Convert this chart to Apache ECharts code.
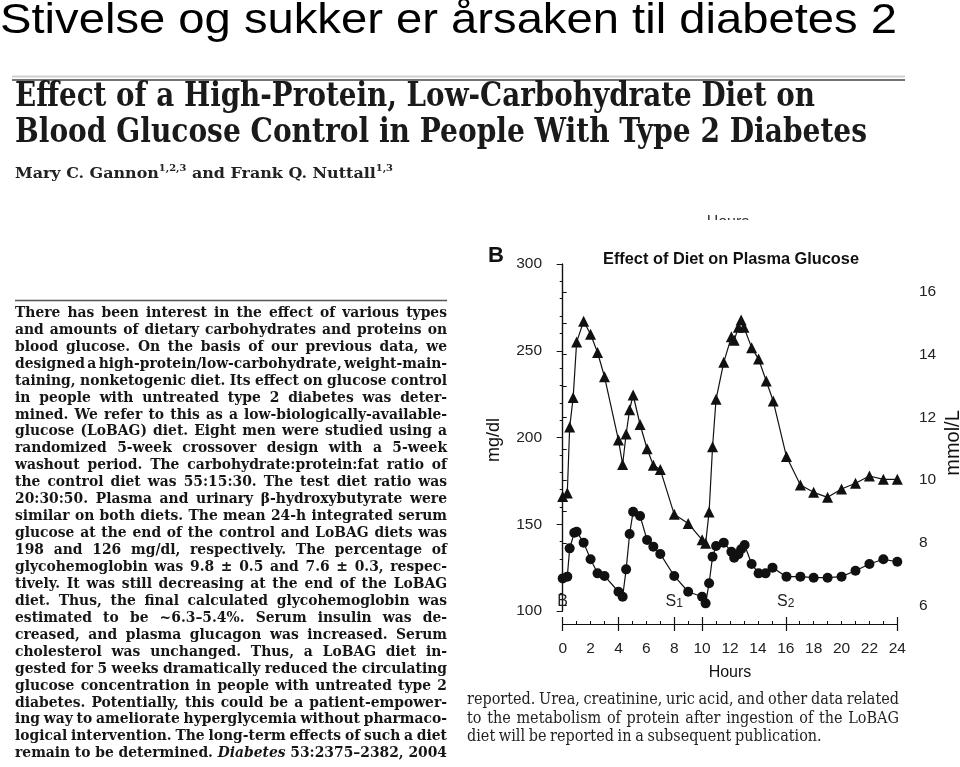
<!DOCTYPE html>
<html><head><meta charset="utf-8">
<script src="https://cdn.jsdelivr.net/npm/echarts@6/dist/echarts.min.js"></script>
<style>html,body{margin:0;padding:0;background:#fff}#c{width:960px;height:767px}</style>
</head><body><div id="c"></div>
<script>
// ---- data ----
const controlHours   = [0,0.33,0.5,0.75,1,1.5,2,2.5,3,4,4.3,4.55,4.8,5.05,5.55,6.05,6.5,7,8,9,10,10.25,10.5,10.75,11,11.55,12.1,12.3,12.6,12.8,13,13.55,14.05,14.6,15.1,16.05,17.05,18,19,20,21,22,23,24];
const controlGlucose = [166,168,206,223,255,267,259.5,249,235,198.5,184.5,202,216,224.5,207.5,193.5,184,181.5,155.7,150.5,141,139,157,194.7,222,243.3,258,256,263.5,267.7,263.5,251.8,245.2,232.6,221,189,172.6,168.4,165.5,170.3,173.6,177.8,175.9,175.9];
const lobagHours     = [0,0.33,0.5,0.83,1,1.5,2,2.5,3,4,4.3,4.55,4.8,5.05,5.55,6.05,6.5,7,8,9,10,10.25,10.5,10.75,11,11.55,12.1,12.3,12.6,12.8,13.05,13.55,14.05,14.55,15.05,16.05,17.05,18,19,20,21,22,23,24];
const lobagGlucose   = [118.8,119.8,136.1,145.1,145.7,139.4,129.8,121.7,120.2,111.1,108.2,124,144.4,157.2,154.8,140.9,137.1,132.9,120.2,111.1,108.2,104.4,116,131.3,137.5,139.4,134.2,130.7,132.7,135.6,138,127.1,121.7,121.7,125,119.8,119.8,119.2,119.2,119.8,123.2,127.1,129.8,128.4];
const hourTicks      = [0,1,2,3,4,5,6,7,8,9,10,11,12,13,14,15,16,17,18,19,20,21,22,23,24];
const hourMajorTicks = [0,4,8,10,16,24];
const mmolTicks      = [6,7,8,9,10,11,12,13,14,15,16];
const mmolLabels     = [6,8,10,12,14,16];
const eventHours     = [0,8,16];
const eventLabels    = ['B','S{s|1}','S{s|2}'];

const slideTitle = 'Stivelse og sukker er årsaken til diabetes 2';
const paperTitle = ['Effect of a High-Protein, Low-Carbohydrate Diet on','Blood Glucose Control in People With Type 2 Diabetes'];
const abstractLines = [
'There has been interest in the effect of various types',
'and amounts of dietary carbohydrates and proteins on',
'blood glucose. On the basis of our previous data, we',
'designed a high-protein/low-carbohydrate, weight-main-',
'taining, nonketogenic diet. Its effect on glucose control',
'in people with untreated type 2 diabetes was deter-',
'mined. We refer to this as a low-biologically-available-',
'glucose (LoBAG) diet. Eight men were studied using a',
'randomized 5-week crossover design with a 5-week',
'washout period. The carbohydrate:protein:fat ratio of',
'the control diet was 55:15:30. The test diet ratio was',
'20:30:50. Plasma and urinary β-hydroxybutyrate were',
'similar on both diets. The mean 24-h integrated serum',
'glucose at the end of the control and LoBAG diets was',
'198 and 126 mg/dl, respectively. The percentage of',
'glycohemoglobin was 9.8 ± 0.5 and 7.6 ± 0.3, respec-',
'tively. It was still decreasing at the end of the LoBAG',
'diet. Thus, the final calculated glycohemoglobin was',
'estimated to be ~6.3–5.4%. Serum insulin was de-',
'creased, and plasma glucagon was increased. Serum',
'cholesterol was unchanged. Thus, a LoBAG diet in-',
'gested for 5 weeks dramatically reduced the circulating',
'glucose concentration in people with untreated type 2',
'diabetes. Potentially, this could be a patient-empower-',
'ing way to ameliorate hyperglycemia without pharmaco-',
'logical intervention. The long-term effects of such a diet',
'remain to be determined. *Diabetes* 53:2375–2382, 2004'
];
const bodyLines = [
'reported. Urea, creatinine, uric acid, and other data related',
'to the metabolism of protein after ingestion of the LoBAG',
'diet will be reported in a subsequent publication.'
];

// ---- helpers ----
const ctx = document.createElement('canvas').getContext('2d');
function tw(t, style, weight, size, family){ ctx.font = `${style} ${weight} ${size}px ${family}`; return ctx.measureText(t).width; }
const SANS = '"Liberation Sans", Arial, sans-serif';
const SERIF = '"DejaVu Serif", serif';
const G = [];
function fitText(text, x, y, width, size, weight, family, fill, sy){
  const w = tw(text, 'normal', weight, size, family);
  G.push({type:'text', x:x, y:y, scaleX: width / w, scaleY: sy || 1, originX:0, originY:0, z:10,
    style:{text:text, x:0, y:0, fontSize:size, fontWeight:weight, fontFamily:family, fill:fill, textAlign:'left', textVerticalAlign:'middle'}});
}
function justifyBlock(lines, x0, width, y0, dy, size, weight, family, fill, justifyLast, minSp){
  const sp = tw(' ', 'normal', weight, size, family);
  const parsed = lines.map(l => l.split(' ').map(w => {
    const it = w.startsWith('*'); const t = w.replace(/\*/g,'');
    return {t:t, it:it, w: tw(t, it?'italic':'normal', weight, size, family)};
  }));
  let sx = 1;
  parsed.forEach(ws => { const sum = ws.reduce((a,b)=>a+b.w,0); const need = sum + sp*minSp*(ws.length-1); sx = Math.min(sx, width/need); });
  parsed.forEach((ws, li) => {
    const sum = ws.reduce((a,b)=>a+b.w,0)*sx;
    const last = li === parsed.length-1;
    const gap = (last && !justifyLast) ? sp*sx*minSp : (width - sum)/(ws.length-1);
    let x = x0; const y = y0 + li*dy;
    ws.forEach(w => {
      G.push({type:'text', x:x, y:y, scaleX:sx, originX:0, originY:0, z:10,
        style:{text:w.t, x:0, y:0, fontSize:size, fontWeight:weight, fontStyle:w.it?'italic':'normal', fontFamily:family, fill:fill, textAlign:'left', textVerticalAlign:'middle'}});
      x += w.w*sx + gap;
    });
  });
}

// slide title
fitText(slideTitle, 0, 21, 897, 42, 'normal', SANS, '#000');
// rules
G.push({type:'line', shape:{x1:12,y1:76.5,x2:905,y2:76.5}, style:{stroke:'#d0d0d0', lineWidth:2}});
G.push({type:'line', shape:{x1:12,y1:80,x2:905,y2:80}, style:{stroke:'#444', lineWidth:1.5}});
G.push({type:'line', shape:{x1:15,y1:300.5,x2:447,y2:300.5}, style:{stroke:'#555', lineWidth:1.5}});
// paper title
fitText(paperTitle[0], 15, 97, 800, 33, 'bold', '"DejaVu Serif Condensed", "DejaVu Serif", serif', '#1a1a1a');
fitText(paperTitle[1], 15, 133, 852, 33, 'bold', '"DejaVu Serif Condensed", "DejaVu Serif", serif', '#1a1a1a');
// authors
(function(){
  const parts = [['Mary C. Gannon',14.5,0],['1,2,3',9,-5],[' and Frank Q. Nuttall',14.5,0],['1,3',9,-5]];
  const fam = SERIF; const total = parts.reduce((a,p)=>a+tw(p[0],'normal','bold',p[1],fam),0);
  const sx = 378/total; let x = 15;
  parts.forEach(p => {
    G.push({type:'text', x:x, y:174+p[2], scaleX:sx, originX:0, originY:0, z:10,
      style:{text:p[0], x:0, y:0, fontSize:p[1], fontWeight:'bold', fontFamily:fam, fill:'#222', textAlign:'left', textVerticalAlign:'middle'}});
    x += tw(p[0],'normal','bold',p[1],fam)*sx;
  });
})();
// abstract
justifyBlock(abstractLines, 15, 432, 313, 16.94, 15, 'bold', SERIF, '#161616', true, 0.5);
// body text under the chart
justifyBlock(bodyLines, 467, 432, 700, 18.5, 16.5, 'normal', SERIF, '#222', false, 0.8);
// chart decorations
G.push({type:'text', x:496, y:256, z:10, style:{text:'B', fontSize:22, fontWeight:'bold', fontFamily:SANS, fill:'#111', textAlign:'center', textVerticalAlign:'middle'}});
fitText('Effect of Diet on Plasma Glucose', 603, 259, 256, 16, 'bold', SANS, '#111', 1.08);
G.push({type:'text', x:494, y:440, rotation:Math.PI/2, z:10, style:{text:'mg/dl', fontSize:18, fontFamily:SANS, fill:'#111', textAlign:'center', textVerticalAlign:'middle'}});
G.push({type:'text', x:953, y:443, rotation:Math.PI/2, z:10, style:{text:'mmol/L', fontSize:20, fontFamily:SANS, fill:'#111', textAlign:'center', textVerticalAlign:'middle'}});
G.push({type:'text', x:730, y:673, z:10, style:{text:'Hours', fontSize:16, fontFamily:SANS, fill:'#111', textAlign:'center', textVerticalAlign:'middle'}});
// cropped "Hours" remnant at top of figure
G.push({type:'text', x:728, y:223, z:10, style:{text:'Hours', fontSize:16, fontFamily:SANS, fill:'#333', textAlign:'center', textVerticalAlign:'middle'}});
G.push({type:'rect', z:11, shape:{x:700,y:220,width:60,height:20}, style:{fill:'#fff'}});

const black = '#111';
const gridLeft = 562.7, gridW = 334.6, gridTop = 264, gridH = 347;
const chart = echarts.init(document.getElementById('c'), null, {renderer:'canvas'});
chart.setOption({
  animation:false,
  backgroundColor:'#fff',
  graphic: G,
  grid:[{left:gridLeft, top:gridTop, width:gridW, height:gridH}],
  xAxis:[
    {type:'value', min:0, max:24, interval:2, offset:13, position:'bottom',
     axisLine:{lineStyle:{color:black, width:1.2}},
     axisTick:{customValues:hourTicks, inside:true, length:3, lineStyle:{color:black}},
     axisLabel:{fontSize:15.5, color:'#222', fontFamily:SANS, margin:17},
     splitLine:{show:false}},
    {type:'value', min:0, max:24, offset:13, position:'bottom',
     axisLine:{show:false}, axisLabel:{show:false}, splitLine:{show:false},
     axisTick:{customValues:hourMajorTicks, inside:false, length:7, lineStyle:{color:black, width:1.2}}},
    {type:'value', min:0, max:24, offset:13, position:'bottom',
     axisLine:{show:false}, axisLabel:{show:false}, splitLine:{show:false},
     axisTick:{customValues:hourMajorTicks, inside:true, length:7, lineStyle:{color:black, width:1.2}}},
    {type:'value', min:0, max:24, offset:0, position:'bottom',
     axisLine:{show:false}, axisTick:{show:false}, splitLine:{show:false},
     axisLabel:{inside:true, margin:1, customValues:eventHours, fontSize:16, color:'#222', fontFamily:SANS,
       formatter: v => eventLabels[eventHours.indexOf(v)],
       rich:{s:{fontSize:12, fontFamily:SANS, color:'#222', verticalAlign:'bottom', padding:[4,0,0,0]}}}}
  ],
  yAxis:[
    {type:'value', min:100, max:300, interval:50, position:'left', offset:gridLeft-552,
     axisLine:{show:true, lineStyle:{color:black, width:1.2}},
     axisTick:{show:true, inside:false, length:6, lineStyle:{color:black}},
     minorTick:{show:true, splitNumber:5, length:3, lineStyle:{color:black}},
     axisLabel:{fontSize:15.5, color:'#222', fontFamily:SANS, margin:10},
     splitLine:{show:false}},
    {type:'value', min:5.83, max:16.89, position:'right', offset:909-(gridLeft+gridW),
     axisLine:{show:true, lineStyle:{color:black, width:1.2}},
     axisTick:{show:true, customValues:mmolTicks, inside:false, length:4, lineStyle:{color:black}},
     axisLabel:{customValues:mmolLabels, fontSize:15.5, color:'#222', fontFamily:SANS, margin:10},
     splitLine:{show:false}}
  ],
  series:[
    {type:'line', name:'Control', xAxisIndex:0, yAxisIndex:0,
     data: controlHours.map((h,i)=>[h, controlGlucose[i]]),
     symbol:'triangle', symbolSize:11, itemStyle:{color:black}, lineStyle:{color:black, width:1.2}},
    {type:'line', name:'LoBAG', xAxisIndex:0, yAxisIndex:0,
     data: lobagHours.map((h,i)=>[h, lobagGlucose[i]]),
     symbol:'circle', symbolSize:10, itemStyle:{color:black}, lineStyle:{color:black, width:1.2}}
  ]
});
</script></body></html>
